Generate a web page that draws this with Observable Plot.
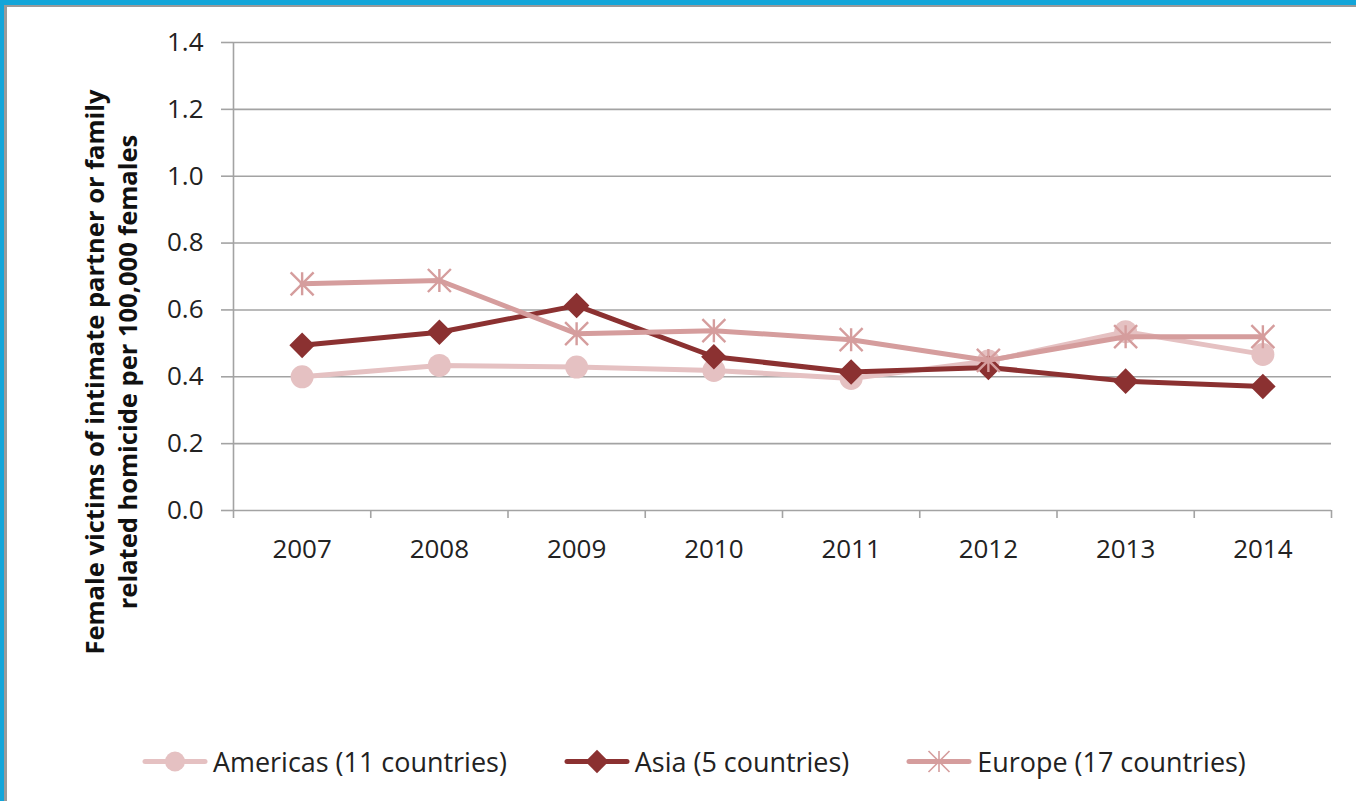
<!DOCTYPE html>
<html>
<head>
<meta charset="utf-8">
<script src="https://cdn.jsdelivr.net/npm/d3@7"></script>
<script src="https://cdn.jsdelivr.net/npm/@observablehq/plot@0.6"></script>
<style>
  html, body { margin: 0; padding: 0; background: #fff; }
  #page { position: relative; width: 1356px; height: 801px; overflow: hidden; background: #fff; font-family: "Open Sans", sans-serif; color: #222; }
  .bar { position: absolute; }
  #chart { position: absolute; left: 0; top: 0; }
  #ylabel { position: absolute; left: 111px; top: 372px; transform: translate(-50%, -50%) rotate(-90deg);
            font-weight: bold; text-align: center; white-space: nowrap; line-height: 33px; color: #111; }
  #legend { position: absolute; left: 142px; top: 761px; transform: translateY(-50%); display: flex; align-items: center; gap: 57px; white-space: nowrap; }
  .item { display: flex; align-items: center; }
  .item svg { display: block; margin-right: 5px; }
</style>
</head>
<body>
<div id="page">
  <div class="bar" style="left:0;top:0;width:1356px;height:5px;background:#12a5d9"></div>
  <div class="bar" style="left:0;top:5px;width:1356px;height:2px;background:#9a9a9a"></div>
  <div class="bar" style="left:0;top:0;width:4px;height:801px;background:#12a5d9"></div>
  <div class="bar" style="left:4px;top:5px;width:3px;height:796px;background:#9a9a9a"></div>
  <div id="chart"></div>
  <div id="ylabel"></div>
  <div id="legend"></div>
</div>
<script>
// ---- data ----
const years = [2007, 2008, 2009, 2010, 2011, 2012, 2013, 2014];
const americas = [0.400, 0.434, 0.429, 0.419, 0.395, 0.447, 0.535, 0.467];
const asia     = [0.494, 0.533, 0.613, 0.460, 0.414, 0.428, 0.387, 0.371];
const europe   = [0.678, 0.688, 0.529, 0.538, 0.511, 0.449, 0.520, 0.520];
const yTicks = [0, 0.2, 0.4, 0.6, 0.8, 1.0, 1.2, 1.4];
const seriesNames = ["Americas (11 countries)", "Asia (5 countries)", "Europe (17 countries)"];
const seriesValues = [americas, asia, europe];
const seriesColors = ["#e5c1c2", "#8b3131", "#d59d9d"];
const yLabelLines = ["Female victims of intimate partner or family", "related homicide per 100,000 females"];

// custom Excel-like star marker (vertical + X)
const starSymbol = {
  draw(ctx, size) {
    const r = Math.sqrt(size / Math.PI);
    ctx.moveTo(0, -r); ctx.lineTo(0, r);
    ctx.moveTo(-r, -r); ctx.lineTo(r, r);
    ctx.moveTo(-r, r); ctx.lineTo(r, -r);
  }
};
const markerOpts = [
  {symbol: "circle", r: 11.5, filled: true},
  {symbol: "diamond2", r: 11.5, filled: true},
  {symbol: starSymbol, r: 11.5, filled: false}
];

const table = seriesNames.map((name, i) => years.map((year, j) => ({series: name, year, value: seriesValues[i][j]})));

const xDomain = [years[0] - 0.5, years[years.length - 1] + 0.5];
const boundaries = years.map(y => y - 0.5).concat([years[years.length - 1] + 0.5]);
const gridColor = "#a3a3a3";

const marks = [
  Plot.gridY(yTicks, {stroke: gridColor, strokeOpacity: 1, strokeWidth: 1.6}),
  Plot.axisY(yTicks, {tickSize: 12, tickPadding: 18, tickFormat: d3.format(".1f"), stroke: gridColor, strokeWidth: 1.6, fill: "#222", fontSize: 26, label: null}),
  Plot.ruleX([xDomain[0]], {stroke: gridColor, strokeWidth: 1.6}),
  Plot.axisX(boundaries, {tickSize: 8, tickFormat: () => "", stroke: gridColor, strokeWidth: 1.6, label: null}),
  Plot.axisX(years, {tickSize: 0, tickPadding: 29, tickFormat: d => String(d), fill: "#222", fontSize: 26, label: null})
];
table.forEach((rows, i) => {
  const c = seriesColors[i];
  const m = markerOpts[i];
  marks.push(Plot.line(rows, {x: "year", y: "value", stroke: c, strokeWidth: 5, strokeLinejoin: "round", strokeLinecap: "round"}));
  marks.push(Plot.dot(rows, {x: "year", y: "value", symbol: m.symbol, r: m.r,
    fill: m.filled ? c : "none", stroke: m.filled ? "none" : c, strokeWidth: m.filled ? 0 : 2.4}));
});

const chart = Plot.plot({
  width: 1356, height: 600,
  marginLeft: 233, marginRight: 25, marginTop: 42, marginBottom: 90,
  style: {fontFamily: "'Open Sans', sans-serif", fontSize: "26px", color: "#222", background: "transparent", overflow: "visible"},
  x: {type: "linear", domain: xDomain},
  y: {domain: [0, 1.4]},
  marks
});
document.getElementById("chart").appendChild(chart);

// ---- text sizing helper ----
const canvas = document.createElement("canvas");
const ctx2 = canvas.getContext("2d");
function fitSize(text, weight, target) {
  ctx2.font = `${weight} 100px "Open Sans"`;
  return 100 * target / ctx2.measureText(text).width;
}

// y label
const yl = document.getElementById("ylabel");
yl.style.fontSize = fitSize(yLabelLines[0], "bold", 565).toFixed(2) + "px";
yl.innerHTML = yLabelLines.map(t => `<div>${t}</div>`).join("");

// legend
const legendSize = fitSize(seriesNames[0], "normal", 294);
const legend = d3.select("#legend").style("font-size", legendSize.toFixed(2) + "px");
seriesNames.forEach((name, i) => {
  const item = legend.append("div").attr("class", "item");
  const svg = item.append("svg").attr("width", 66).attr("height", 30);
  svg.append("line").attr("x1", 3).attr("x2", 63).attr("y1", 15).attr("y2", 15)
    .attr("stroke", seriesColors[i]).attr("stroke-width", 5).attr("stroke-linecap", "round");
  const m = markerOpts[i];
  const sym = typeof m.symbol === "string" ? (m.symbol === "circle" ? d3.symbolCircle : d3.symbolDiamond2) : m.symbol;
  const r = i === 0 ? 10 : 10.5;
  svg.append("path").attr("transform", "translate(33,15)")
    .attr("d", d3.symbol(sym, Math.PI * r * r)())
    .attr("fill", m.filled ? seriesColors[i] : "none")
    .attr("stroke", m.filled ? "none" : seriesColors[i])
    .attr("stroke-width", m.filled ? 0 : 1.6);
  item.append("span").text(name);
});
</script>
</body>
</html>
